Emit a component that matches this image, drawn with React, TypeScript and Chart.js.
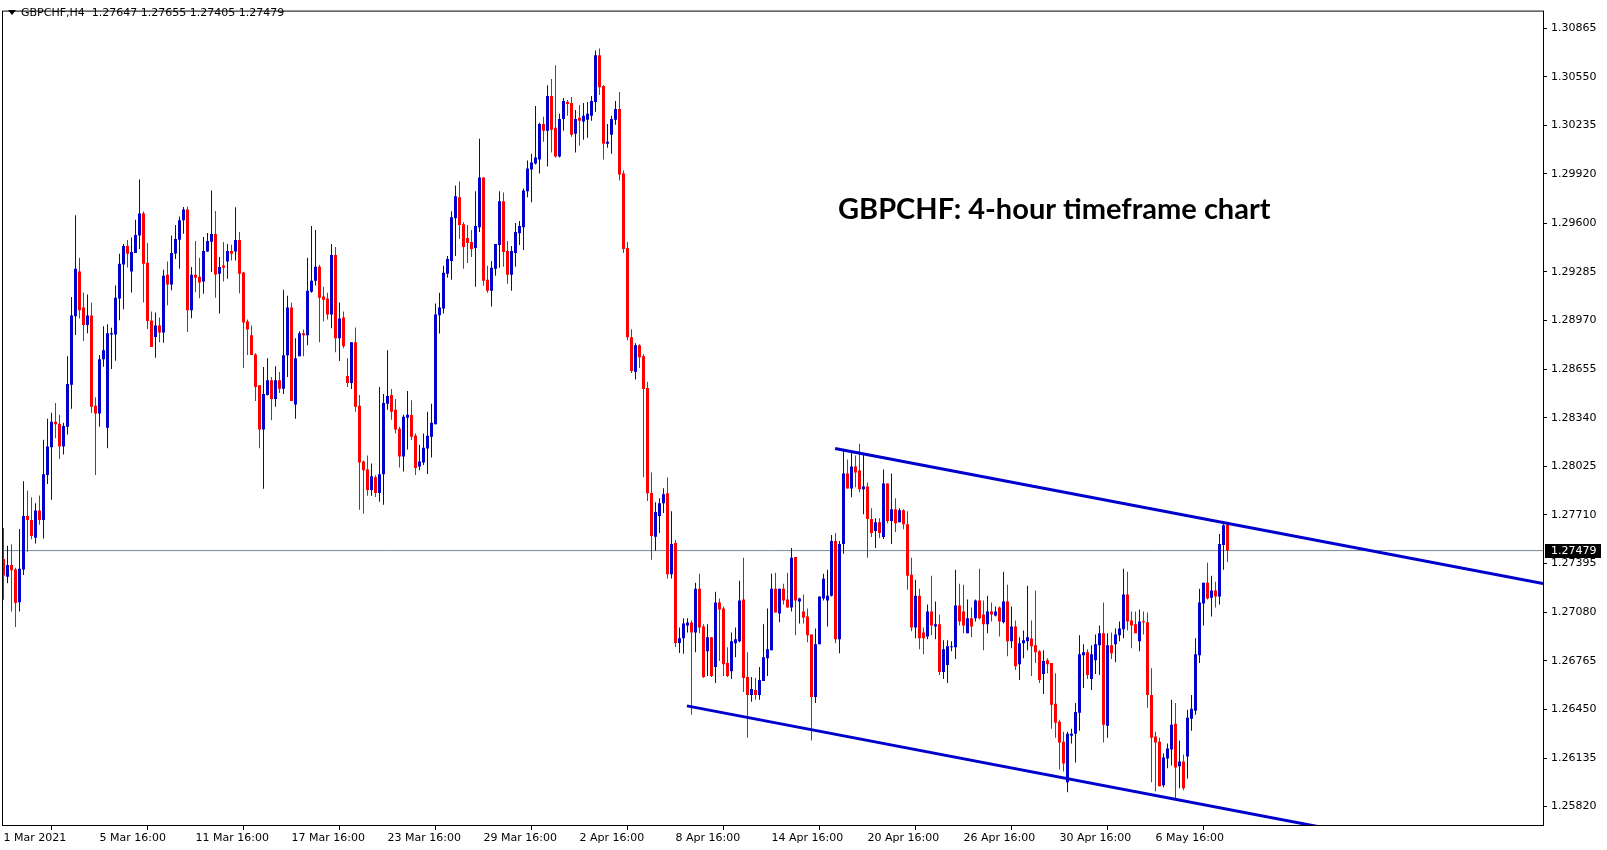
import { useEffect, useRef } from 'react';
import { Chart, registerables } from 'chart.js';

Chart.register(...registerables);

// GBPCHF H4 candles, 1 Mar – 7 May 2021
const opens = [
  1.27424, 1.27310, 1.27385, 1.27357, 1.27145, 1.27357, 1.27703, 1.27677, 1.27563, 1.27739,
  1.27677, 1.27969, 1.28149, 1.28314, 1.28301, 1.28153, 1.28282, 1.28554, 1.28998, 1.29288,
  1.29054, 1.28940, 1.29003, 1.28417, 1.28368, 1.28719, 1.28275, 1.28880, 1.28880, 1.29112,
  1.29333, 1.29453, 1.29288, 1.29408, 1.29520, 1.29663, 1.29344, 1.28970, 1.28863, 1.28938,
  1.28893, 1.29266, 1.29204, 1.29404, 1.29494, 1.29620, 1.29689, 1.29037, 1.29266, 1.29253,
  1.29223, 1.29417, 1.29481, 1.29530, 1.29273, 1.29326, 1.29352, 1.29421, 1.29417, 1.29492,
  1.29281, 1.28964, 1.28874, 1.28749, 1.28550, 1.28263, 1.28488, 1.28582, 1.28462, 1.28582,
  1.28528, 1.28745, 1.29054, 1.28426, 1.28739, 1.28887, 1.28874, 1.29157, 1.29228, 1.29318,
  1.29125, 1.29112, 1.29009, 1.29395, 1.28855, 1.28990, 1.28610, 1.28565, 1.28829, 1.28417,
  1.28057, 1.28005, 1.27872, 1.27954, 1.27853, 1.27973, 1.28430, 1.28488, 1.28391, 1.28269,
  1.28089, 1.28340, 1.28357, 1.28224, 1.28024, 1.28050, 1.28140, 1.28217, 1.28297, 1.29004,
  1.29047, 1.29273, 1.29356, 1.29633, 1.29768, 1.29594, 1.29504, 1.29479, 1.29440, 1.29575,
  1.29897, 1.29234, 1.29163, 1.29305, 1.29459, 1.29742, 1.29420, 1.29266, 1.29408, 1.29536,
  1.29575, 1.29807, 1.29948, 1.29987, 1.30013, 1.30244, 1.30199, 1.30424, 1.30219, 1.30032,
  1.30276, 1.30386, 1.30379, 1.30180, 1.30283, 1.30260, 1.30270, 1.30296, 1.30386, 1.30688,
  1.30489, 1.30116, 1.30174, 1.30270, 1.30341, 1.29923, 1.29440, 1.28861, 1.28638, 1.28810,
  1.28739, 1.28533, 1.27852, 1.27568, 1.27703, 1.27786, 1.27851, 1.27325, 1.27528, 1.26880,
  1.26911, 1.26994, 1.27013, 1.26949, 1.27232, 1.26988, 1.26827, 1.26917, 1.26724, 1.27142,
  1.27104, 1.26750, 1.26698, 1.26878, 1.26891, 1.27162, 1.26660, 1.26544, 1.26576, 1.26544,
  1.26634, 1.26782, 1.26833, 1.27232, 1.27071, 1.27232, 1.27162, 1.27110, 1.27438, 1.27149,
  1.27084, 1.27052, 1.26936, 1.26531, 1.26872, 1.27168, 1.27155, 1.27187, 1.27541, 1.26904,
  1.27522, 1.27979, 1.27882, 1.28024, 1.27998, 1.27876, 1.27895, 1.27683, 1.27606, 1.27663,
  1.27567, 1.27914, 1.27670, 1.27747, 1.27663, 1.27740, 1.27650, 1.27322, 1.26981, 1.27187,
  1.26949, 1.26923, 1.27084, 1.26988, 1.27001, 1.26692, 1.26737, 1.26853, 1.26853, 1.27123,
  1.27084, 1.26943, 1.27040, 1.27040, 1.27155, 1.27065, 1.27001, 1.27084, 1.27059, 1.27110,
  1.27014, 1.27149, 1.26891, 1.26988, 1.26743, 1.26878, 1.26891, 1.26910, 1.26866, 1.26827,
  1.26679, 1.26769, 1.26750, 1.26486, 1.26370, 1.26241, 1.25978, 1.26280, 1.26293, 1.26428,
  1.26801, 1.26821, 1.26647, 1.26769, 1.26866, 1.26943, 1.26344, 1.26866, 1.26872, 1.26930,
  1.26969, 1.27194, 1.27026, 1.27001, 1.26891, 1.27020, 1.27014, 1.26544, 1.26274, 1.26241,
  1.25958, 1.26132, 1.26190, 1.26357, 1.26081, 1.26113, 1.26145, 1.26389, 1.26441, 1.26801,
  1.27136, 1.27271, 1.27174, 1.27220, 1.27181, 1.27516, 1.27647,
];

const highs = [
  1.27625, 1.27510, 1.27520, 1.27368, 1.27619, 1.27928, 1.27868, 1.27825, 1.27786, 1.27836,
  1.28198, 1.28333, 1.28372, 1.28436, 1.28359, 1.28308, 1.28739, 1.29123, 1.29652, 1.29376,
  1.29151, 1.29138, 1.29086, 1.28473, 1.28747, 1.28932, 1.28945, 1.28923, 1.29196, 1.29402,
  1.29466, 1.29492, 1.29507, 1.29622, 1.29884, 1.29676, 1.29472, 1.29028, 1.29022, 1.28990,
  1.29299, 1.29352, 1.29520, 1.29588, 1.29644, 1.29706, 1.29708, 1.29316, 1.29485, 1.29376,
  1.29511, 1.29537, 1.29813, 1.29680, 1.29382, 1.29479, 1.29466, 1.29460, 1.29704, 1.29543,
  1.29286, 1.28977, 1.28938, 1.28758, 1.28550, 1.28668, 1.28726, 1.28604, 1.28674, 1.28636,
  1.29170, 1.29131, 1.29086, 1.28855, 1.28900, 1.28912, 1.29376, 1.29582, 1.29556, 1.29331,
  1.29189, 1.29150, 1.29466, 1.29447, 1.29086, 1.29028, 1.28726, 1.28829, 1.28925, 1.28488,
  1.28063, 1.28095, 1.28044, 1.27967, 1.28539, 1.28494, 1.28777, 1.28526, 1.28462, 1.28282,
  1.28359, 1.28513, 1.28453, 1.28237, 1.28164, 1.28237, 1.28378, 1.28430, 1.29080, 1.29150,
  1.29324, 1.29388, 1.29678, 1.29845, 1.29871, 1.29607, 1.29588, 1.29556, 1.29807, 1.30148,
  1.29897, 1.29324, 1.29356, 1.29466, 1.29807, 1.29800, 1.29485, 1.29453, 1.29601, 1.29614,
  1.29826, 1.30006, 1.30051, 1.30360, 1.30251, 1.30290, 1.30495, 1.30534, 1.30624, 1.30309,
  1.30412, 1.30399, 1.30418, 1.30334, 1.30367, 1.30380, 1.30386, 1.30424, 1.30720, 1.30733,
  1.30495, 1.30244, 1.30296, 1.30392, 1.30450, 1.29942, 1.29479, 1.28913, 1.28822, 1.28816,
  1.28752, 1.28572, 1.27985, 1.27793, 1.27819, 1.27883, 1.27953, 1.27734, 1.27548, 1.26981,
  1.27040, 1.27040, 1.27026, 1.27271, 1.27329, 1.27001, 1.27001, 1.26917, 1.27213, 1.27168,
  1.27117, 1.26853, 1.26949, 1.26981, 1.27284, 1.27432, 1.26821, 1.26660, 1.26653, 1.26724,
  1.27001, 1.27104, 1.27329, 1.27335, 1.27232, 1.27265, 1.27335, 1.27496, 1.27438, 1.27174,
  1.27194, 1.27104, 1.26936, 1.26975, 1.27181, 1.27329, 1.27355, 1.27580, 1.27593, 1.27541,
  1.28133, 1.28069, 1.28114, 1.28095, 1.28172, 1.28100, 1.27921, 1.27754, 1.27689, 1.27689,
  1.28005, 1.27914, 1.27979, 1.27818, 1.27754, 1.27747, 1.27734, 1.27432, 1.27290, 1.27232,
  1.26981, 1.27129, 1.27316, 1.27149, 1.27065, 1.26898, 1.26898, 1.26891, 1.27355, 1.27265,
  1.27258, 1.27162, 1.27110, 1.27162, 1.27361, 1.27155, 1.27187, 1.27142, 1.27117, 1.27117,
  1.27342, 1.27258, 1.27117, 1.27026, 1.26917, 1.26962, 1.27252, 1.27026, 1.27220, 1.26833,
  1.26833, 1.26782, 1.26750, 1.26685, 1.26383, 1.26306, 1.26306, 1.26325, 1.26492, 1.26930,
  1.26872, 1.26840, 1.26866, 1.26936, 1.26994, 1.27142, 1.26943, 1.26949, 1.26975, 1.27020,
  1.27361, 1.27342, 1.27084, 1.27084, 1.27097, 1.27084, 1.27078, 1.26717, 1.26306, 1.26267,
  1.26164, 1.26229, 1.26512, 1.26492, 1.26248, 1.26158, 1.26447, 1.26544, 1.26911, 1.27232,
  1.27271, 1.27400, 1.27316, 1.27277, 1.27586, 1.27663, 1.27655,
];

const lows = [
  1.27160, 1.27267, 1.27085, 1.26984, 1.27085, 1.27321, 1.27471, 1.27553, 1.27525, 1.27647,
  1.27557, 1.27911, 1.27808, 1.28207, 1.28072, 1.28102, 1.28232, 1.28398, 1.28876, 1.28983,
  1.28837, 1.28887, 1.28370, 1.27969, 1.28282, 1.28670, 1.28142, 1.28655, 1.28709, 1.28972,
  1.29043, 1.29314, 1.29151, 1.29408, 1.29434, 1.29086, 1.28915, 1.28799, 1.28728, 1.28829,
  1.28825, 1.29069, 1.29166, 1.29369, 1.29305, 1.29532, 1.28895, 1.28985, 1.29153, 1.29114,
  1.29144, 1.29414, 1.29284, 1.29118, 1.29015, 1.29223, 1.29240, 1.29359, 1.29359, 1.29146,
  1.28662, 1.28747, 1.28747, 1.28449, 1.28142, 1.27879, 1.28484, 1.28323, 1.28411, 1.28501,
  1.28494, 1.28604, 1.28449, 1.28333, 1.28739, 1.28739, 1.28809, 1.29150, 1.29196, 1.28829,
  1.28964, 1.28977, 1.28919, 1.28764, 1.28707, 1.28790, 1.28539, 1.28526, 1.28378, 1.27743,
  1.27718, 1.27834, 1.27834, 1.27827, 1.27795, 1.27776, 1.28391, 1.28327, 1.28237, 1.28018,
  1.27992, 1.28134, 1.28196, 1.27969, 1.27999, 1.28033, 1.27975, 1.28082, 1.28297, 1.28886,
  1.29015, 1.29247, 1.29234, 1.29388, 1.29498, 1.29305, 1.29343, 1.29382, 1.29189, 1.29543,
  1.29195, 1.29150, 1.29060, 1.29260, 1.29311, 1.29318, 1.29208, 1.29163, 1.29318, 1.29459,
  1.29427, 1.29768, 1.29736, 1.29981, 1.29923, 1.30128, 1.29968, 1.30058, 1.30026, 1.30026,
  1.30199, 1.30296, 1.30161, 1.30058, 1.30103, 1.30141, 1.30154, 1.30264, 1.30322, 1.30431,
  1.30013, 1.30090, 1.30051, 1.30238, 1.29877, 1.29408, 1.28842, 1.28630, 1.28587, 1.28662,
  1.27954, 1.27800, 1.27420, 1.27478, 1.27593, 1.27722, 1.27299, 1.27299, 1.26855, 1.26816,
  1.26810, 1.26949, 1.26415, 1.26821, 1.26943, 1.26653, 1.26666, 1.26660, 1.26621, 1.26763,
  1.26666, 1.26660, 1.26647, 1.26788, 1.26885, 1.26563, 1.26267, 1.26499, 1.26512, 1.26512,
  1.26634, 1.26666, 1.26833, 1.27078, 1.27014, 1.27129, 1.27110, 1.27084, 1.26930, 1.27007,
  1.27007, 1.26885, 1.26248, 1.26492, 1.26872, 1.27155, 1.26988, 1.27181, 1.26878, 1.26814,
  1.27458, 1.27882, 1.27824, 1.27889, 1.27857, 1.27715, 1.27432, 1.27567, 1.27496, 1.27560,
  1.27554, 1.27657, 1.27522, 1.27599, 1.27663, 1.27618, 1.27226, 1.26956, 1.26911, 1.26840,
  1.26808, 1.26904, 1.26930, 1.26904, 1.26673, 1.26647, 1.26621, 1.26827, 1.26776, 1.26994,
  1.26943, 1.26943, 1.26917, 1.27020, 1.27033, 1.26833, 1.26943, 1.27020, 1.27052, 1.26923,
  1.27007, 1.26795, 1.26846, 1.26705, 1.26640, 1.26782, 1.26833, 1.26666, 1.26750, 1.26621,
  1.26550, 1.26685, 1.26325, 1.26267, 1.26061, 1.26048, 1.25913, 1.26229, 1.26106, 1.26312,
  1.26589, 1.26647, 1.26576, 1.26679, 1.26673, 1.26235, 1.26267, 1.26776, 1.26756, 1.26891,
  1.26911, 1.26962, 1.26846, 1.26943, 1.26827, 1.26936, 1.26460, 1.25978, 1.25920, 1.25952,
  1.25945, 1.26068, 1.26087, 1.25868, 1.25939, 1.25926, 1.26003, 1.26312, 1.26415, 1.26750,
  1.26994, 1.27162, 1.27052, 1.27110, 1.27129, 1.27355, 1.27405,
];

const closes = [
  1.27317, 1.27385, 1.27351, 1.27139, 1.27362, 1.27703, 1.27677, 1.27574, 1.27739, 1.27677,
  1.27973, 1.28153, 1.28314, 1.28297, 1.28153, 1.28286, 1.28559, 1.29003, 1.29305, 1.29037,
  1.28940, 1.29003, 1.28411, 1.28368, 1.28719, 1.28777, 1.28887, 1.28887, 1.29118, 1.29337,
  1.29453, 1.29402, 1.29414, 1.29524, 1.29663, 1.29337, 1.28966, 1.28799, 1.28938, 1.28893,
  1.29260, 1.29204, 1.29408, 1.29498, 1.29620, 1.29689, 1.29037, 1.29266, 1.29247, 1.29217,
  1.29421, 1.29485, 1.29530, 1.29268, 1.29316, 1.29311, 1.29421, 1.29402, 1.29492, 1.29273,
  1.28957, 1.28912, 1.28747, 1.28539, 1.28263, 1.28494, 1.28582, 1.28462, 1.28582, 1.28528,
  1.28745, 1.29054, 1.28449, 1.28726, 1.28887, 1.28874, 1.29163, 1.29228, 1.29318, 1.29118,
  1.29105, 1.29009, 1.29395, 1.28855, 1.28983, 1.28803, 1.28565, 1.28829, 1.28411, 1.28050,
  1.27999, 1.27872, 1.27960, 1.27853, 1.27973, 1.28436, 1.28481, 1.28378, 1.28263, 1.28089,
  1.28346, 1.28359, 1.28217, 1.28014, 1.28056, 1.28146, 1.28224, 1.28307, 1.29009, 1.29054,
  1.29279, 1.29369, 1.29639, 1.29775, 1.29588, 1.29446, 1.29472, 1.29434, 1.29582, 1.29897,
  1.29228, 1.29163, 1.29311, 1.29466, 1.29742, 1.29414, 1.29266, 1.29420, 1.29543, 1.29582,
  1.29813, 1.29955, 1.29993, 1.30026, 1.30244, 1.30199, 1.30424, 1.30206, 1.30032, 1.30276,
  1.30392, 1.30373, 1.30174, 1.30276, 1.30264, 1.30296, 1.30309, 1.30392, 1.30688, 1.30482,
  1.30116, 1.30128, 1.30276, 1.30341, 1.29916, 1.29434, 1.28861, 1.28642, 1.28810, 1.28732,
  1.28526, 1.27851, 1.27573, 1.27729, 1.27786, 1.27844, 1.27325, 1.27522, 1.26880, 1.26911,
  1.27007, 1.27013, 1.26949, 1.27232, 1.26981, 1.26660, 1.26917, 1.26666, 1.27142, 1.27097,
  1.26743, 1.26666, 1.26891, 1.26904, 1.27155, 1.26653, 1.26544, 1.26582, 1.26544, 1.26640,
  1.26788, 1.26840, 1.27232, 1.27078, 1.27232, 1.27155, 1.27110, 1.27432, 1.27155, 1.27168,
  1.27046, 1.26930, 1.26531, 1.26872, 1.27181, 1.27297, 1.27187, 1.27541, 1.26904, 1.27522,
  1.27979, 1.27882, 1.28024, 1.27985, 1.27876, 1.27895, 1.27683, 1.27593, 1.27663, 1.27593,
  1.27914, 1.27670, 1.27747, 1.27657, 1.27740, 1.27650, 1.27316, 1.26981, 1.27187, 1.26911,
  1.26911, 1.27084, 1.26994, 1.27001, 1.26692, 1.26840, 1.26859, 1.26859, 1.27123, 1.27020,
  1.26994, 1.27040, 1.26988, 1.27155, 1.27040, 1.27001, 1.27084, 1.27065, 1.27084, 1.27020,
  1.27149, 1.26891, 1.26988, 1.26730, 1.26878, 1.26898, 1.26917, 1.26859, 1.26821, 1.26640,
  1.26763, 1.26743, 1.26480, 1.26364, 1.26235, 1.26100, 1.26293, 1.26293, 1.26434, 1.26808,
  1.26821, 1.26673, 1.26808, 1.26872, 1.26943, 1.26351, 1.26866, 1.26814, 1.26936, 1.26975,
  1.27194, 1.27020, 1.26994, 1.26943, 1.27020, 1.27014, 1.26544, 1.26267, 1.26235, 1.25952,
  1.26138, 1.26196, 1.26351, 1.26074, 1.26113, 1.25939, 1.26396, 1.26454, 1.26808, 1.27142,
  1.27271, 1.27168, 1.27220, 1.27181, 1.27522, 1.27644, 1.27479,
];

// Time axis labels, one every 24 bars (4 trading days of H4 bars)
const dateLabels = [
  '1 Mar 2021', '5 Mar 16:00', '11 Mar 16:00', '17 Mar 16:00', '23 Mar 16:00',
  '29 Mar 16:00', '2 Apr 16:00', '8 Apr 16:00', '14 Apr 16:00', '20 Apr 16:00',
  '26 Apr 16:00', '30 Apr 16:00', '6 May 16:00',
];
const barsPerLabel = 24;

const priceTicks = [
  1.30865, 1.3055, 1.30235, 1.2992, 1.296, 1.29285, 1.2897, 1.28655, 1.2834,
  1.28025, 1.2771, 1.27395, 1.2708, 1.26765, 1.2645, 1.26135, 1.2582,
];

const symbolName = 'GBPCHF,H4';
const lastBar = [1.27647, 1.27655, 1.27405, 1.27479];
const lastPrice = 1.27479;
const chartTitle = 'GBPCHF: 4-hour timeframe chart';

// Descending channel drawn across the April–May range
const upperChannel = [
  { x: 207.9, y: 1.2814 },
  { x: 384.875, y: 1.27266 },
];
const lowerChannel = [
  { x: 170.85, y: 1.26473 },
  { x: 384.875, y: 1.25412 },
];

const X_MIN = -0.375;
const X_MAX = 384.875;
const Y_MIN = 1.25701;
const Y_MAX = 1.30978;

const BULL = '#0000CD';
const BEAR = '#FF0000';
const CHANNEL = '#0000CD';
const FONT = 'DejaVu Sans';

const overlayPlugin = {
  id: 'mtOverlay',
  afterDraw(chart: any) {
    const { ctx, chartArea: a, scales } = chart;
    ctx.save();

    // chart frame
    ctx.strokeStyle = '#000';
    ctx.lineWidth = 1;
    ctx.strokeRect(a.left + 0.5, a.top + 0.5, a.right - a.left, a.bottom - a.top);

    // symbol header with the last bar's OHLC
    ctx.fillStyle = '#000';
    ctx.beginPath();
    ctx.moveTo(8, 10);
    ctx.lineTo(16, 10);
    ctx.lineTo(12, 15);
    ctx.closePath();
    ctx.fill();
    ctx.font = `11px "${FONT}"`;
    ctx.textBaseline = 'middle';
    ctx.textAlign = 'left';
    ctx.fillText(`${symbolName}  ${lastBar.map((v) => v.toFixed(5)).join(' ')}`, 21, 13.5);

    // title
    ctx.font = 'bold 29px Lato';
    ctx.textBaseline = 'alphabetic';
    ctx.fillText(chartTitle, 838, 219);

    // last price marker on the price axis
    const y = Math.round(scales.y.getPixelForValue(lastPrice));
    ctx.fillStyle = '#000';
    ctx.fillRect(a.right + 2, y - 7, 56, 14);
    ctx.fillStyle = '#fff';
    ctx.font = `11px "${FONT}"`;
    ctx.textBaseline = 'middle';
    ctx.fillText(lastPrice.toFixed(5), a.right + 8, y + 0.5);

    ctx.restore();
  },
};

export default function App() {
  const canvasRef = useRef<HTMLCanvasElement>(null);

  useEffect(() => {
    const canvas = canvasRef.current;
    if (!canvas) return;

    const index = closes.map((_, i) => i);
    const colors = index.map((i) => (closes[i] >= opens[i] ? BULL : BEAR));

    const chart = new Chart(canvas, {
      type: 'bar',
      data: {
        datasets: [
          {
            type: 'line',
            label: 'Upper channel',
            data: upperChannel,
            borderColor: CHANNEL,
            borderWidth: 3,
            pointRadius: 0,
            clip: 0,
            order: 0,
          } as any,
          {
            type: 'line',
            label: 'Lower channel',
            data: lowerChannel,
            borderColor: CHANNEL,
            borderWidth: 3,
            pointRadius: 0,
            clip: 0,
            order: 0,
          } as any,
          {
            type: 'bar',
            label: 'Body',
            data: index.map((i) => ({ x: i, y: [opens[i], closes[i]] })),
            backgroundColor: colors,
            barThickness: 3,
            minBarLength: 1,
            grouped: false,
            inflateAmount: 0,
            borderWidth: 0,
            order: 1,
          } as any,
          {
            type: 'bar',
            label: 'Range',
            data: index.map((i) => ({ x: i, y: [lows[i], highs[i]] })),
            backgroundColor: colors,
            barThickness: 1,
            grouped: false,
            inflateAmount: 0,
            borderWidth: 0,
            order: 2,
          } as any,
          {
            type: 'line',
            label: 'Bid',
            data: [
              { x: X_MIN, y: lastPrice },
              { x: X_MAX, y: lastPrice },
            ],
            borderColor: '#778899',
            borderWidth: 1,
            pointRadius: 0,
            clip: 0,
            order: 3,
          } as any,
        ],
      },
      options: {
        responsive: false,
        animation: false,
        devicePixelRatio: 1,
        layout: { autoPadding: false, padding: { left: 2, top: 5, right: 0, bottom: 0 } },
        plugins: { legend: { display: false }, tooltip: { enabled: false }, title: { display: false } },
        scales: {
          x: {
            type: 'linear',
            min: X_MIN,
            max: X_MAX,
            offset: false,
            border: { display: false },
            grid: { drawOnChartArea: false, drawTicks: true, tickLength: 5, color: '#000' },
            afterBuildTicks: (scale: any) => {
              scale.ticks = dateLabels.map((_, k) => ({ value: k * barsPerLabel }));
            },
            afterFit: (scale: any) => {
              scale.height = 25;
            },
            ticks: {
              autoSkip: false,
              maxRotation: 0,
              align: 'start',
              padding: 2,
              color: '#000',
              font: { family: FONT, size: 11 },
              callback: (value: any) => dateLabels[Math.round(Number(value) / barsPerLabel)] ?? '',
            },
          },
          y: {
            type: 'linear',
            position: 'right',
            min: Y_MIN,
            max: Y_MAX,
            border: { display: false },
            grid: { drawOnChartArea: false, drawTicks: true, tickLength: 4, color: '#000' },
            afterBuildTicks: (scale: any) => {
              scale.ticks = priceTicks.map((v) => ({ value: v }));
            },
            afterFit: (scale: any) => {
              scale.width = 64;
            },
            ticks: {
              padding: 4,
              color: '#000',
              font: { family: FONT, size: 11 },
              callback: (value: any) => Number(value).toFixed(5),
            },
          },
        },
      } as any,
      plugins: [overlayPlugin],
    });

    return () => chart.destroy();
  }, []);

  return (
    <div style={{ position: 'fixed', left: 0, top: 0, width: 1607, height: 850, background: '#fff' }}>
      <canvas ref={canvasRef} width={1607} height={850} style={{ display: 'block', width: 1607, height: 850 }} />
    </div>
  );
}
